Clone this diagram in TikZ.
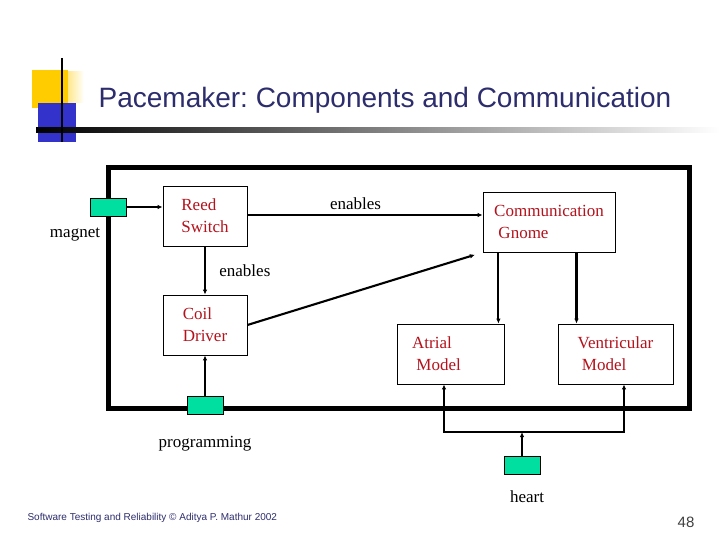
\documentclass[tikz,border=0pt]{standalone}
\usepackage{fontspec}
\setmainfont{Liberation Serif}
\newfontfamily\slidefont{Liberation Sans}
\usetikzlibrary{arrows.meta}
\usetikzlibrary{positioning}
\definecolor{portgreen}{RGB}{0,222,160}
\definecolor{compred}{RGB}{180,18,28}
\definecolor{titleblue}{RGB}{45,45,110}
\definecolor{padyellow}{RGB}{255,204,0}
\definecolor{padblue}{RGB}{51,51,204}
\frenchspacing

\begin{document}
\begin{tikzpicture}[x=1pt,y=-1pt,>={Latex[length=5pt,width=4.5pt]},
    comp node/.style={rectangle,draw,line width=0.8pt,fill=white,font=\fontsize{17}{22}\selectfont,text=compred,align=left,inner sep=0pt},
    port node/.style={rectangle,draw,line width=0.6pt,fill=portgreen,minimum width=36pt,minimum height=18pt,inner sep=0pt},
    lbl node/.style={font=\fontsize{17}{22}\selectfont},
    link/.style={line width=2.1pt}]
  \useasboundingbox[fill=white] (0,0) rectangle (720,540);
  % slide decoration
  \shade[left color=padyellow!45,right color=white] (68,72) rectangle (84,103);
  \fill[padyellow] (32,70) rectangle (68,108);
  \fill[padblue] (38,103) rectangle (76,142);
  \shade[left color=black,right color=white] (36,128) rectangle (720,133);
  \draw[line width=1.8pt] (62,58) -- (62,142);
  \node[font=\slidefont\fontsize{28}{32}\selectfont,text=titleblue] (title) at (385,100) {Pacemaker: Components and Communication};
  % frame
  \draw[line width=5pt] (108,168) rectangle (689,408);
  % components
  \node[comp node,minimum width=84pt,minimum height=60pt] (reed) at (205,216) {Reed\\Switch};
  \node[comp node,minimum width=84pt,minimum height=60pt] (coil) at (205,325) {Coil\\Driver};
  \node[comp node,minimum width=132pt,minimum height=60pt] (comm) at (549,222) {Communication\\\ Gnome};
  \node[comp node,minimum width=107pt,minimum height=60pt] (atrial) at (450.5,354) {Atrial\\\ Model\rule{28pt}{0pt}};
  \node[comp node,minimum width=115pt,minimum height=60pt] (vent) at (615.5,354) {Ventricular\\\ Model};
  % ports
  \node[port node] (magnet) at (108,207) {};
  \node[port node] (prog) at (205,405) {};
  \node[port node] (heart) at (522,465) {};
  \node[lbl node] (magnetlbl) at (75,235) {magnet};
  \node[lbl node] (proglbl) at (205,444) {programming};
  \node[lbl node] (heartlbl) at (527,497) {heart};
  \coordinate (bus) at (522,432);
  % connectors
  \path[->,link] (magnet) edge (reed.west |- magnet);
  \path[->,link] (reed.east |- 0,215) edge node[lbl node,above=1pt,pos=0.46] {enables} (comm.west |- 0,215);
  \path[->,link] (reed) edge node[lbl node,right=10pt] {enables} (coil);
  \path[->,link,shorten >=8pt] (coil.east) edge (comm.south west);
  \path[->,link] ([xshift=-6pt]atrial.north east |- comm.south) edge ([xshift=-6pt]atrial.north east);
  \path[->,link] ([xshift=-39pt]vent.north |- comm.south) edge ([xshift=-39pt]vent.north);
  \path[->,link] (prog) edge (coil);
  \path[->,link] (heart) edge (bus);
  \draw[->,link] (bus) -| ([xshift=-6.5pt]atrial.south);
  \draw[->,link] (bus) -| ([xshift=8.5pt]vent.south);
  % footer
  \node[font=\slidefont\fontsize{10}{12}\selectfont,text=titleblue,anchor=west] (footer) at (24,518) {Software Testing and Reliability © Aditya P. Mathur 2002};
  \node[font=\slidefont\fontsize{15}{18}\selectfont,text=black!75] (pageno) at (686,522) {48};
\end{tikzpicture}
\end{document}
